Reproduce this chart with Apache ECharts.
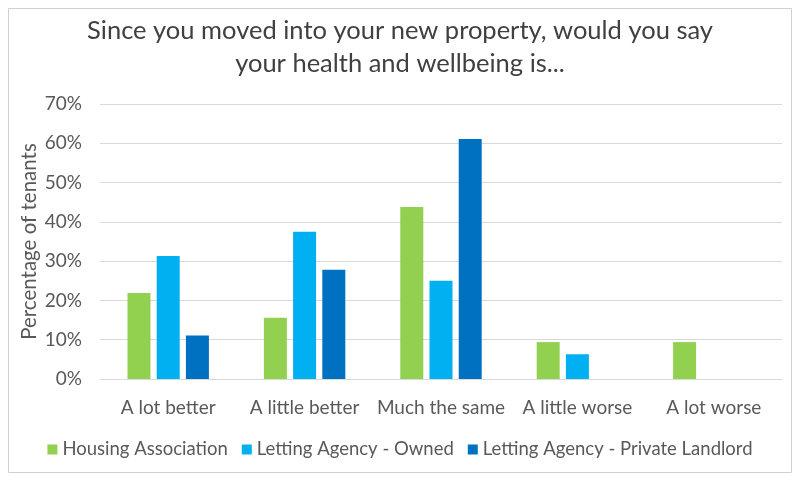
<!DOCTYPE html>
<html><head><meta charset="utf-8">
<script src="https://cdn.jsdelivr.net/npm/echarts@6/dist/echarts.min.js"></script>
<style>html,body{margin:0;padding:0;background:#fff}#c{width:800px;height:482px}</style>
</head><body><div id="c"></div>
<script>
const categories = ['A lot better', 'A little better', 'Much the same', 'A little worse', 'A lot worse'];
const housingAssociation = [21.9, 15.6, 43.8, 9.4, 9.4];
const lettingOwned = [31.3, 37.5, 25.0, 6.3, 0];
const lettingPrivate = [11.1, 27.8, 61.1, 0, 0];
const seriesNames = ['Housing Association', 'Letting Agency - Owned', 'Letting Agency - Private Landlord'];
const colors = ['#92D050', '#00B0F0', '#0070C0'];
const FONT = 'Lato';
const chart = echarts.init(document.getElementById('c'));
const mk = (name, data, color) => ({
  name, type: 'bar', data, barWidth: 23, barGap: '27%',
  itemStyle: { color }
});
chart.setOption({
  animation: false,
  textStyle: { fontFamily: FONT },
  graphic: [{ type: 'rect', shape: { x: 8.5, y: 8.5, width: 783, height: 464 }, style: { fill: 'none', stroke: '#d0d0d0', lineWidth: 1 } }],
  title: {
    text: 'Since you moved into your new property, would you say\nyour health and wellbeing is...',
    left: 'center', top: 9,
    textStyle: { fontFamily: FONT, fontSize: 25.5, fontWeight: 'normal', color: '#404040', lineHeight: 33 }
  },
  legend: {
    bottom: 18, left: 'center', itemWidth: 10, itemHeight: 10, itemGap: 14,
    icon: 'rect',
    textStyle: { fontFamily: FONT, fontSize: 18.5, color: '#595959' }
  },
  grid: { left: 100, right: 18, top: 104, bottom: 103, containLabel: false },
  xAxis: {
    type: 'category', data: categories,
    axisLine: { lineStyle: { color: '#d9d9d9', width: 1 } },
    axisTick: { show: false },
    axisLabel: { interval: 0, fontFamily: FONT, fontSize: 19, color: '#595959', margin: 19 }
  },
  yAxis: {
    type: 'value', min: 0, max: 70, interval: 10,
    name: 'Percentage of tenants', nameLocation: 'middle', nameGap: 60, nameRotate: 90,
    nameMoveOverlap: false,
    nameTextStyle: { fontFamily: FONT, fontSize: 20.5, color: '#595959' },
    axisLabel: { formatter: '{value}%', fontFamily: FONT, fontSize: 19, color: '#595959', margin: 18 },
    splitLine: { lineStyle: { color: '#d9d9d9', width: 1 } },
    axisLine: { show: false }, axisTick: { show: false }
  },
  series: [
    mk(seriesNames[0], housingAssociation, colors[0]),
    mk(seriesNames[1], lettingOwned, colors[1]),
    mk(seriesNames[2], lettingPrivate, colors[2])
  ]
});
</script></body></html>
